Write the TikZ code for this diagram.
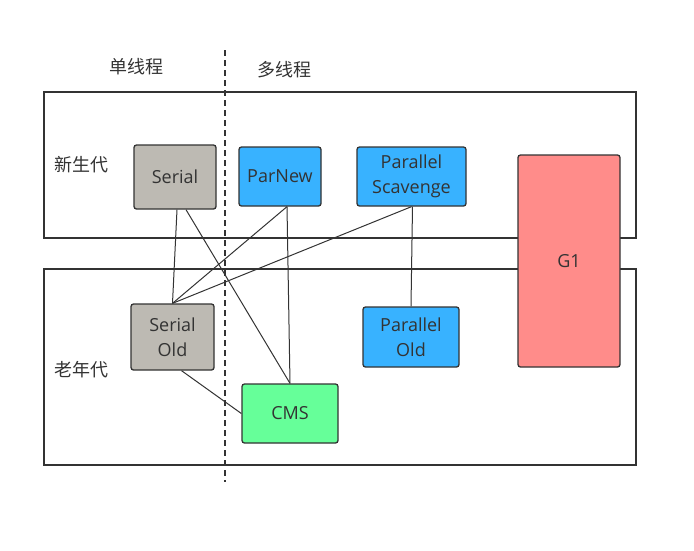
\documentclass[tikz,border=0pt]{standalone}
\usepackage{fontspec}
\setmainfont{Open Sans}
\newfontfamily\cjk{Noto Sans CJK SC}
\begin{document}
\begin{tikzpicture}[x=1pt,y=-1pt,
  gc/.style={draw=black!80,line width=1.3pt,rounded corners=2.5pt,align=center,text=black!80,font=\fontsize{18}{25}\selectfont,inner sep=0pt},
  area/.style={draw=black!80,line width=1.3pt},
  lbl/.style={text=black!80,font=\cjk\fontsize{18}{20}\selectfont,inner sep=0pt},
  link/.style={draw=black!80,line width=1pt}]
\useasboundingbox (0,0) rectangle (694,550);
\draw[area] (44,92) rectangle (636,238);
\draw[area] (44,269) rectangle (636,465);
\draw[black!80,line width=1.3pt,dash pattern=on 6pt off 4pt] (225,50) coordinate (dtop) -- (225,482) coordinate (dbot);
\node[lbl] (t1) at (136,67) {单线程};
\node[lbl] (t2) at (284,70) {多线程};
\node[lbl] (y) at (81,165) {新生代};
\node[lbl] (o) at (81,370) {老年代};
\node[gc,fill={rgb,255:red,189;green,186;blue,179},minimum width=82pt,minimum height=64pt] (serial) at (175,177) {Serial};
\node[gc,fill={rgb,255:red,56;green,178;blue,255},minimum width=82pt,minimum height=59pt] (parnew) at (280,176.5) {ParNew};
\node[gc,fill={rgb,255:red,56;green,178;blue,255},minimum width=109pt,minimum height=59pt] (ps) at (411.5,176.5) {Parallel\\Scavenge};
\node[gc,fill={rgb,255:red,255;green,140;blue,138},minimum width=102pt,minimum height=212pt] (g1) at (569,261) {G1};
\node[gc,fill={rgb,255:red,189;green,186;blue,179},minimum width=83pt,minimum height=66pt] (so) at (172.5,337) {Serial\\Old};
\node[gc,fill={rgb,255:red,56;green,178;blue,255},minimum width=96pt,minimum height=60pt] (po) at (411,337) {Parallel\\Old};
\node[gc,fill={rgb,255:red,102;green,255;blue,153},minimum width=96pt,minimum height=59pt] (cms) at (290,413.5) {CMS};
\draw[link] ([xshift=2pt]serial.south) -- (so.north);
\draw[link] ([xshift=11pt]serial.south) -- (cms.north);
\draw[link] ([xshift=7pt]parnew.south) -- (so.north);
\draw[link] ([xshift=7pt]parnew.south) -- (cms.north);
\draw[link] (ps.south) -- (so.north);
\draw[link] ([xshift=1pt]ps.south) -- (po.north);
\draw[link] ([xshift=9pt]so.south) -- (cms.west);
\end{tikzpicture}
\end{document}
